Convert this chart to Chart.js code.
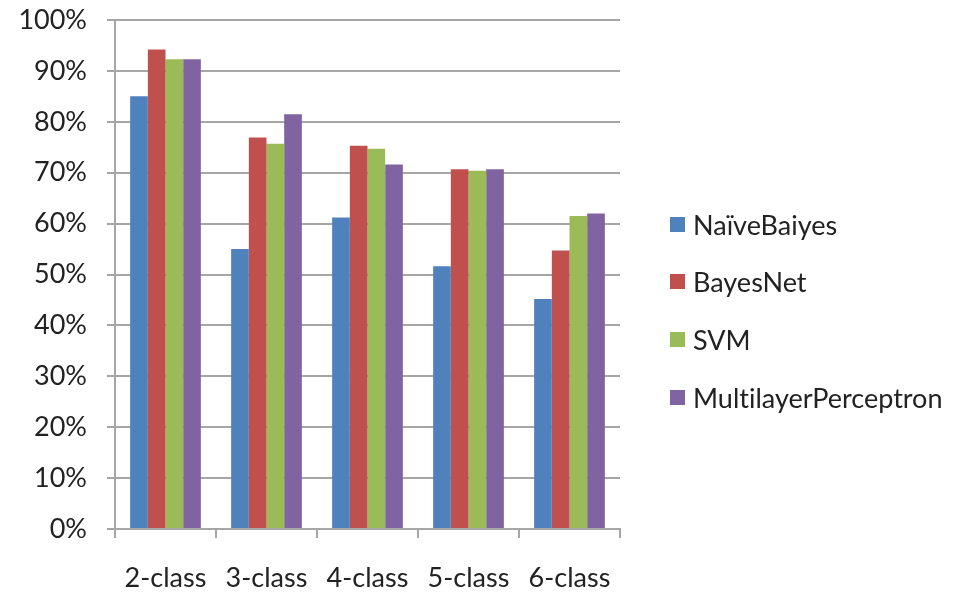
<!DOCTYPE html>
<html>
<head>
<meta charset="utf-8">
<script src="https://cdn.jsdelivr.net/npm/chart.js@4/dist/chart.umd.min.js"></script>
<style>
    html, body { margin: 0; padding: 0; background: #fff; }
    #wrap { position: relative; width: 969px; height: 595px; }
    #legend { position: absolute; left: 670px; top: 0; font: 27px Lato, sans-serif; color: #222; font-variant-ligatures: none; }
    #legend .item { position: absolute; left: 0; white-space: nowrap; display: flex; align-items: center; height: 30px; }
    #legend .swatch { width: 15px; height: 15px; margin-right: 8px; flex: none; }
</style>
</head>
<body>
<div id="wrap">
    <canvas id="acc" width="969" height="595"></canvas>
    <div id="legend"></div>
</div>
<script>
const CLASSES = ['2-class', '3-class', '4-class', '5-class', '6-class'];
const NAIVE_BAYES = [85.0, 55.0, 61.2, 51.6, 45.2];
const BAYES_NET = [94.2, 76.9, 75.3, 70.7, 54.7];
const SVM = [92.3, 75.7, 74.7, 70.4, 61.5];
const MLP = [92.3, 81.5, 71.6, 70.7, 62.0];

const SERIES = [
    { label: 'NaïveBaiyes', data: NAIVE_BAYES, color: '#4f81bd' },
    { label: 'BayesNet', data: BAYES_NET, color: '#c0504d' },
    { label: 'SVM', data: SVM, color: '#9bbb59' },
    { label: 'MultilayerPerceptron', data: MLP, color: '#8064a2' },
];

const FONT = { family: 'Lato, sans-serif', size: 27 };

// legend sits to the right of the plot, one row per classifier
const legendEl = document.getElementById('legend');
const ROW_Y = [224, 281, 339, 397];
SERIES.forEach((s, i) => {
    const row = document.createElement('div');
    row.className = 'item';
    row.style.top = (ROW_Y[i] - 15) + 'px';
    row.innerHTML = `<span class="swatch" style="background:${s.color}"></span><span>${s.label}</span>`;
    legendEl.appendChild(row);
});

new Chart(document.getElementById('acc'), {
    type: 'bar',
    data: {
        labels: CLASSES,
        datasets: SERIES.map((s) => ({
            label: s.label, data: s.data, backgroundColor: s.color,
            borderWidth: 0, categoryPercentage: 0.70, barPercentage: 1.0,
        })),
    },
    options: {
        responsive: false, animation: false,
        layout: { padding: { top: 20, right: 349, bottom: 2, left: 0 } },
        plugins: { legend: { display: false }, tooltip: { enabled: false } },
        scales: {
            x: {
                afterFit: (s) => { s.height = 64; },
                grid: { drawOnChartArea: false, color: '#a6a6a6', lineWidth: 2, tickLength: 9 },
                border: { color: '#a6a6a6', width: 2 },
                ticks: { font: FONT, color: '#222', padding: 24 },
            },
            y: {
                min: 0, max: 100,
                // fixed gutter; the top label may overhang the plot
                afterFit: (s) => { s.width = 115; s.paddingTop = 0; s.paddingBottom = 0; },
                grid: { color: '#a6a6a6', lineWidth: 2, tickLength: 8 },
                border: { color: '#a6a6a6', width: 2 },
                ticks: { stepSize: 10, font: FONT, color: '#222', padding: 20, callback: (v) => v + '%' },
            },
        },
    },
});
</script>
</body>
</html>
